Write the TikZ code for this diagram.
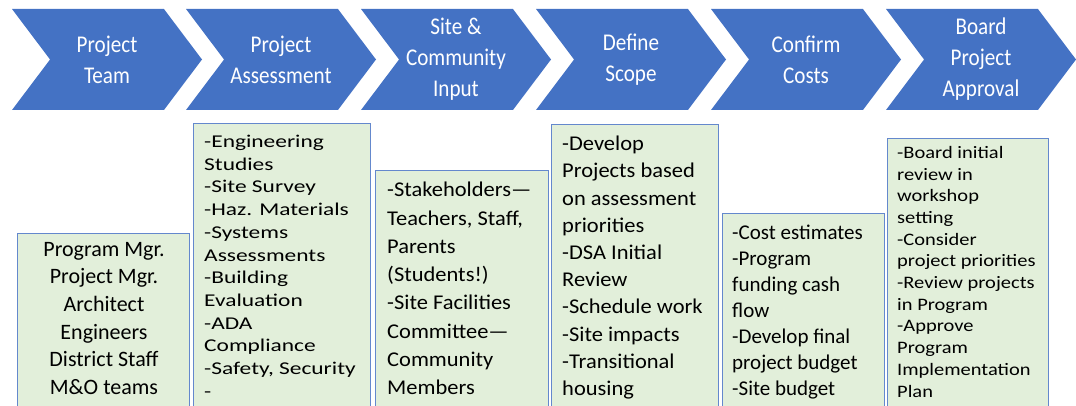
\documentclass[tikz,border=0pt]{standalone}
\usepackage{fontspec}
\setmainfont{Carlito}
\newfontfamily\stepfont[FakeStretch=0.88]{Carlito}
\newfontfamily\notefontw[FakeStretch=1.3]{Carlito}
\newfontfamily\notefontv[FakeStretch=1.17]{Carlito}
\newfontfamily\notefontu[FakeStretch=1.07]{Carlito}
\usetikzlibrary{shapes.symbols}

\definecolor{stepblue}{RGB}{68,114,196}
\definecolor{notegreen}{RGB}{226,239,218}
\definecolor{noteline}{RGB}{100,136,205}

\tikzset{
  chevron/.style={signal, signal from=west, signal to=east, signal pointer angle=106,
    fill=stepblue, draw=none, minimum width=190pt, minimum height=101pt, inner sep=0pt,
    text=white, align=center, font=\stepfont\fontsize{24}{31}\selectfont},
  notebox/.style={draw=noteline, line width=1pt, fill=notegreen, anchor=north west,
    inner sep=0pt, minimum height=300pt},
  notetext/.style={anchor=north west, align=left, inner sep=0pt, text=black}
}

\begin{document}
\begin{tikzpicture}[x=1pt,y=-1pt]
  \useasboundingbox (0,0) rectangle (1076,406);
  \clip (0,0) rectangle (1076,406);
  % steps
  \node[chevron] (c1) at (107,59.5) {Project\\Team};
  \node[chevron] (c2) at (281,59.5) {Project\\Assessment};
  \node[chevron] (c3) at (456,59.5) {Site \&\\Community\\Input};
  \node[chevron] (c4) at (631,59.5) {Define\\Scope};
  \node[chevron] (c5) at (806,59.5) {Confirm\\Costs};
  \node[chevron] (c6) at (981,59.5) {Board\\Project\\Approval};
  %
  % boxes under the steps
  \node[notebox, minimum width=172pt] (b1) at (17,233) {};
  \node[notebox, minimum width=177pt] (b2) at (193,123) {};
  \node[notebox, minimum width=173pt] (b3) at (375,170) {};
  \node[notebox, minimum width=167pt] (b4) at (551,124) {};
  \node[notebox, minimum width=162pt] (b5) at (722,213) {};
  \node[notebox, minimum width=161pt] (b6) at (887,138) {};
  %
  \node[notetext, anchor=north, align=center, font=\fontsize{22}{27.6}\selectfont] (t1) at (104,242)
    {Program Mgr.\\Project Mgr.\\Architect\\Engineers\\District Staff\\M\&O teams};
  \node[notetext, font=\notefontw\fontsize{18}{22.7}\selectfont] (t2) at (204,135)
    {-Engineering\\Studies\\-Site Survey\\-Haz. Materials\\-Systems\\Assessments\\-Building\\Evaluation\\-ADA\\Compliance\\-Safety, Security\\-};
  \node[notetext, font=\notefontu\fontsize{21}{28.3}\selectfont] (t3) at (387,182)
    {-Stakeholders—\\Teachers, Staff,\\Parents\\(Students!)\\-Site Facilities\\Committee—\\Community\\Members};
  \node[notetext, font=\notefontu\fontsize{21}{27.2}\selectfont] (t4) at (562,136)
    {-Develop\\Projects based\\on assessment\\priorities\\-DSA Initial\\Review\\-Schedule work\\-Site impacts\\-Transitional\\housing};
  \node[notetext, font=\fontsize{21}{26}\selectfont] (t5) at (732,225)
    {-Cost estimates\\-Program\\funding cash\\flow\\-Develop final\\project budget\\-Site budget};
  \node[notetext, font=\notefontv\fontsize{17.5}{21.7}\selectfont] (t6) at (897,146)
    {-Board initial\\review in\\workshop\\setting\\-Consider\\project priorities\\-Review projects\\in Program\\-Approve\\Program\\Implementation\\Plan};
\end{tikzpicture}
\end{document}
